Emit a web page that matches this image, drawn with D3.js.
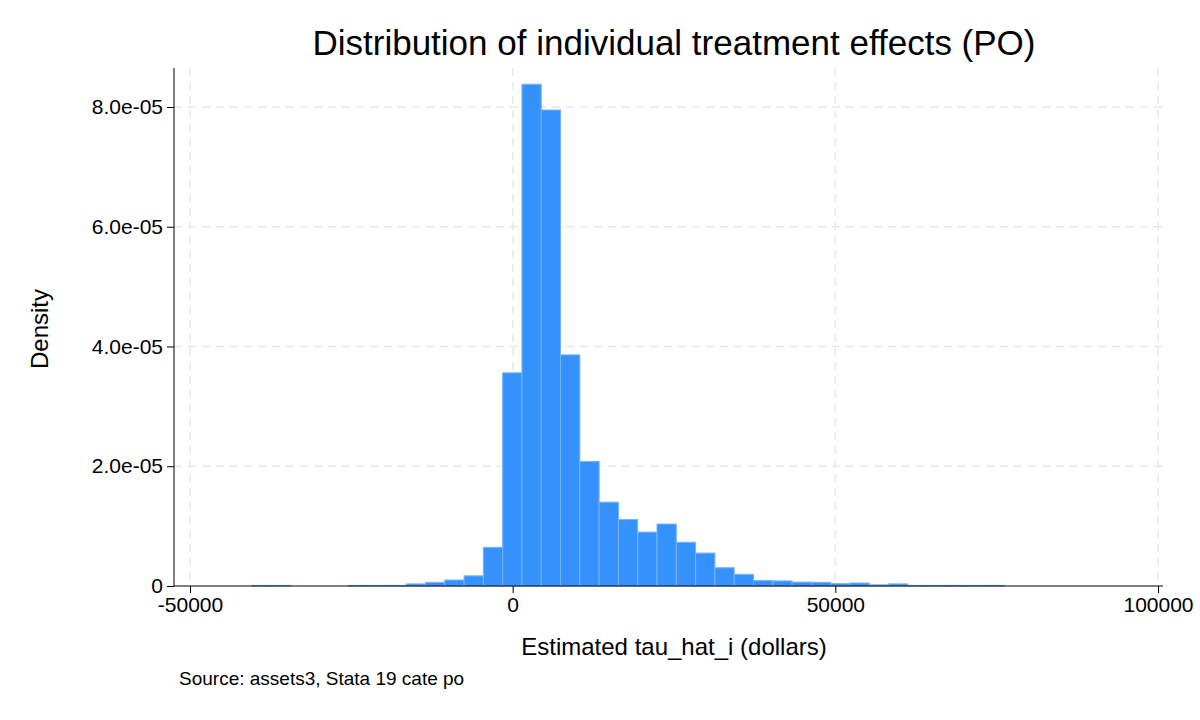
<!DOCTYPE html>
<html>
<head>
<meta charset="utf-8">
<script src="https://cdn.jsdelivr.net/npm/d3@7"></script>
<style>
  body { margin: 0; background: #fff; }
  text { font-family: "Liberation Sans", Arial, sans-serif; fill: #000; }
</style>
</head>
<body>
<div id="chart"></div>
<script>
// Histogram bins (dollars) and densities (x 1e-5)
var binStart = -40420;
var binWidth = 2990;
var densities = [0.01, 0.01, 0, 0, 0, 0.01, 0.01, 0.01, 0.035, 0.06, 0.1, 0.17, 0.646,
    3.56, 8.38, 7.95, 3.86, 2.08, 1.40, 1.11, 0.90, 1.035, 0.73, 0.55, 0.305, 0.195,
    0.09, 0.085, 0.065, 0.062, 0.04, 0.05, 0.02, 0.035, 0.01, 0.01, 0.01, 0.01, 0.01];
var xTicks = [-50000, 0, 50000, 100000];
var yTicks = [0, 2e-5, 4e-5, 6e-5, 8e-5];
var yTickLabels = ["0", "2.0e-05", "4.0e-05", "6.0e-05", "8.0e-05"];

var bins = densities.map(function (d, i) {
    return { x0: binStart + i * binWidth, x1: binStart + (i + 1) * binWidth, y: d * 1e-5 };
});

var svg = d3.select("#chart").append("svg")
    .attr("width", 1200)
    .attr("height", 720);

var x = d3.scaleLinear().domain([-50000, 100000]).range([190, 1158]);
var y = d3.scaleLinear().domain([0, 8e-5]).range([586, 107]);

// Grid
svg.append("g").selectAll("line.gx")
    .data(xTicks).enter().append("line")
    .attr("x1", d => x(d)).attr("x2", d => x(d))
    .attr("y1", 68).attr("y2", 586)
    .attr("stroke", "#e8e8e8").attr("stroke-width", 1.5)
    .attr("stroke-dasharray", "8,6");
svg.append("g").selectAll("line.gy")
    .data(yTicks.slice(1)).enter().append("line")
    .attr("x1", 174).attr("x2", 1163)
    .attr("y1", d => y(d)).attr("y2", d => y(d))
    .attr("stroke", "#e8e8e8").attr("stroke-width", 1.5)
    .attr("stroke-dasharray", "8,6");

// Bars
svg.append("g").selectAll("rect")
    .data(bins.filter(d => d.y > 0)).enter().append("rect")
    .attr("x", d => x(d.x0))
    .attr("width", d => x(d.x1) - x(d.x0))
    .attr("y", d => y(d.y))
    .attr("height", d => 586 - y(d.y))
    .attr("fill", "#3592fd")
    .attr("stroke", "#74b3ff")
    .attr("stroke-width", 1);

// Axes
var xAxis = svg.append("g")
    .attr("transform", "translate(0,586)")
    .call(d3.axisBottom(x).tickValues(xTicks).tickSize(7).tickPadding(4)
        .tickFormat(d => String(d)));
xAxis.select(".domain").remove();
xAxis.append("line").attr("x1", 174).attr("x2", 1163).attr("stroke", "#000");
xAxis.selectAll("text").style("font-size", "21px").attr("fill", "#000");

var yAxis = svg.append("g")
    .attr("transform", "translate(174,0)")
    .call(d3.axisLeft(y).tickValues(yTicks).tickSize(7).tickPadding(4)
        .tickFormat((d, i) => yTickLabels[i]));
yAxis.select(".domain").remove();
yAxis.append("line").attr("y1", 68).attr("y2", 586).attr("stroke", "#000");
yAxis.selectAll("text").style("font-size", "21px").attr("fill", "#000");

// Labels
svg.append("text")
    .attr("x", 674).attr("y", 55)
    .attr("text-anchor", "middle")
    .style("font-size", "35px")
    .text("Distribution of individual treatment effects (PO)");

svg.append("text")
    .attr("x", 674).attr("y", 655)
    .attr("text-anchor", "middle")
    .style("font-size", "24px")
    .text("Estimated tau_hat_i (dollars)");

svg.append("text")
    .attr("transform", "rotate(-90)")
    .attr("x", -329).attr("y", 48)
    .attr("text-anchor", "middle")
    .style("font-size", "24px")
    .text("Density");

svg.append("text")
    .attr("x", 179).attr("y", 685)
    .style("font-size", "19px")
    .text("Source: assets3, Stata 19 cate po");
</script>
</body>
</html>
